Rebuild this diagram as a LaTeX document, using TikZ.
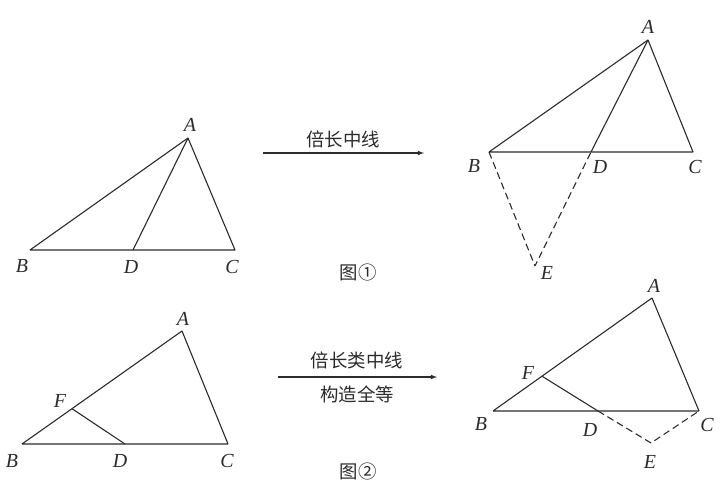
\documentclass[tikz,border=0pt]{standalone}
\usepackage{fontspec}
\setmainfont{Liberation Serif}
\newfontfamily\cjk{Noto Sans CJK SC}
\definecolor{ink}{HTML}{2B2B2B}
\tikzset{
  lbl/.style={font=\fontsize{20}{20}\selectfont\itshape,text=ink,inner sep=0pt},
  hanzi/.style={font=\cjk\fontsize{18.5}{18.5}\selectfont,text=ink,inner sep=0pt},
  seg/.style={draw=ink,line width=1.1bp},
  aux/.style={seg,dash pattern=on 7bp off 4bp},
}
\begin{document}
\begin{tikzpicture}[>=latex,line join=bevel,x=1bp,y=1bp]
\useasboundingbox (0,0) rectangle (721,487);
%% figure 1, left
\coordinate (A1) at (188,349);
  \coordinate (B1) at (30,237);
  \coordinate (D1) at (133,237);
  \coordinate (C1) at (235,237);
  \node (lA1) at (190,362) [lbl] {A};
  \node (lB1) at (22,221) [lbl] {B};
  \node (lD1) at (131,220) [lbl] {D};
  \node (lC1) at (232,220) [lbl] {C};
  \draw [seg] (A1) -- (B1) -- (C1) -- cycle;
  \draw [seg] (A1) -- (D1);
%% figure 1, right
\coordinate (A2) at (648,447);
  \coordinate (B2) at (489,335);
  \coordinate (D2) at (591,335);
  \coordinate (C2) at (693,335);
  \coordinate (E2) at (535,221);
  \node (lA2) at (648,460) [lbl] {A};
  \node (lB2) at (474,321) [lbl] {B};
  \node (lD2) at (600,320) [lbl] {D};
  \node (lC2) at (695,320) [lbl] {C};
  \node (lE2) at (547,214) [lbl] {E};
  \draw [seg] (A2) -- (B2) -- (C2) -- cycle;
  \draw [seg] (A2) -- (D2);
  \draw [aux] (B2) -- (E2) -- (D2);
%% arrow 1
\coordinate (s1) at (263,334);
  \coordinate (t1) at (424,334);
  \draw [->,seg] (s1) -- (t1);
  \node (txt1) at (343,348) [hanzi] {倍长中线};
  \node (fig1) at (358,214) [hanzi] {图①};
%% figure 2, left
\coordinate (A3) at (182,156);
  \coordinate (B3) at (22,43);
  \coordinate (D3) at (125,43);
  \coordinate (C3) at (228,43);
  \coordinate (F3) at (72,78.3);
  \node (lA3) at (183,168) [lbl] {A};
  \node (lB3) at (12,26) [lbl] {B};
  \node (lD3) at (120,26) [lbl] {D};
  \node (lC3) at (227,26) [lbl] {C};
  \node (lF3) at (60,86) [lbl] {F};
  \draw [seg] (A3) -- (B3) -- (C3) -- cycle;
  \draw [seg] (F3) -- (D3);
%% figure 2, right
\coordinate (A4) at (652,189);
  \coordinate (B4) at (493,76);
  \coordinate (C4) at (699,76);
  \coordinate (F4) at (542,110.8);
  \coordinate (D4) at (598,76);
  \coordinate (E4) at (651,44);
  \node (lA4) at (654,201) [lbl] {A};
  \node (lF4) at (528,114) [lbl] {F};
  \node (lB4) at (481,63) [lbl] {B};
  \node (lD4) at (590,57) [lbl] {D};
  \node (lC4) at (707,62) [lbl] {C};
  \node (lE4) at (650,25) [lbl] {E};
  \draw [seg] (A4) -- (B4) -- (C4) -- cycle;
  \draw [seg] (F4) -- (D4);
  \draw [aux] (D4) -- (E4) -- (C4);
%% arrow 2
\coordinate (s2) at (278,110);
  \coordinate (t2) at (437,110);
  \draw [->,seg] (s2) -- (t2);
  \node (txt2) at (357,127) [hanzi] {倍长类中线};
  \node (txt3) at (357,93) [hanzi] {构造全等};
  \node (fig2) at (358,16) [hanzi] {图②};
%
\end{tikzpicture}
\end{document}
